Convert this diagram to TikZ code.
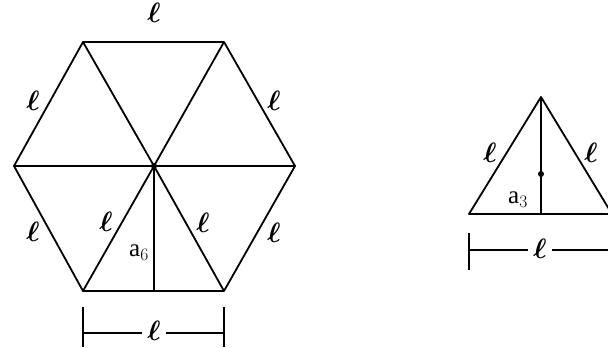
\documentclass[tikz,border=0pt]{standalone}
\usepackage{fix-cm}
\usepackage{fontspec}
\setmainfont{Liberation Serif}
\usetikzlibrary{calc}
\tikzset{
  side/.style={draw=black, line width=1.8pt, line join=round},
  apo/.style={draw=black, line width=1.5pt},
  ctr/.style={circle, fill=black, inner sep=0pt, minimum size=6pt},
  lbl/.style={font=\fontsize{28}{28}\selectfont\boldmath, inner sep=1pt},
  sub/.style={font=\fontsize{25}{25}\selectfont, inner sep=1pt},
  dim/.style={draw=black, line width=1.6pt}
}
\begin{document}
\begin{tikzpicture}[x=1pt,y=-1pt]
  \useasboundingbox (0,0) rectangle (608,348);
  % hexagon
  \coordinate (O) at (154,166);
  \coordinate (h1) at (224,42);
  \coordinate (h2) at (83,42);
  \coordinate (h3) at (14,166);
  \coordinate (h4) at (83,291);
  \coordinate (h5) at (224,291);
  \coordinate (h6) at (295,166);
  \coordinate (hb) at (154,291);
  \draw[side] (h1) -- (h2) -- (h3) -- (h4) -- (h5) -- (h6) -- cycle;
  \foreach \v in {h1,h2,h3,h4,h5,h6} \draw[side] (O) -- (\v);
  \draw[apo] (O) -- (hb);
  \node[ctr] (oc) at (O) {};
  \node[lbl] (lt) at (154,13) {$\ell$};
  \node[lbl] (lul) at (33,101) {$\ell$};
  \node[lbl] (lur) at (274,101) {$\ell$};
  \node[lbl] (lll) at (33,232) {$\ell$};
  \node[lbl] (llr) at (274,233) {$\ell$};
  \node[lbl] (lil) at (106,222) {$\ell$};
  \node[lbl] (lir) at (203,223) {$\ell$};
  \node[sub] (a6) at (139,253) {a$_6$};
  % hexagon dimension
  \coordinate (hd1) at (83,333);
  \coordinate (hd2) at (224,333);
  \node[lbl, inner sep=5pt] (hdl) at (154,331) {$\ell$};
  \draw[dim] ($(hd1)+(0,-26)$) -- ($(hd1)+(0,14)$);
  \draw[dim] ($(hd2)+(0,-26)$) -- ($(hd2)+(0,14)$);
  \draw[dim] (hd1) -- (hdl.west |- hd1);
  \draw[dim] (hdl.east |- hd2) -- (hd2);
  % triangle
  \coordinate (t1) at (541,97);
  \coordinate (t2) at (469,214);
  \coordinate (t3) at (612,214);
  \coordinate (tb) at (541,214);
  \draw[side] (t1) -- (t2) -- (t3) -- cycle;
  \draw[apo] (t1) -- (tb);
  \node[ctr] (tc) at (541,174) {};
  \node[lbl] (tl) at (490,153) {$\ell$};
  \node[lbl] (tr) at (591,153) {$\ell$};
  \node[sub] (a3) at (518,200) {a$_3$};
  % triangle dimension
  \coordinate (td1) at (469,250);
  \coordinate (td2) at (612,250);
  \node[lbl, inner sep=5pt] (tdl) at (540,249) {$\ell$};
  \draw[dim] ($(td1)+(0,-17)$) -- ($(td1)+(0,20)$);
  \draw[dim] (td1) -- (tdl.west |- td1);
  \draw[dim] (tdl.east |- td2) -- (td2);
\end{tikzpicture}
\end{document}
